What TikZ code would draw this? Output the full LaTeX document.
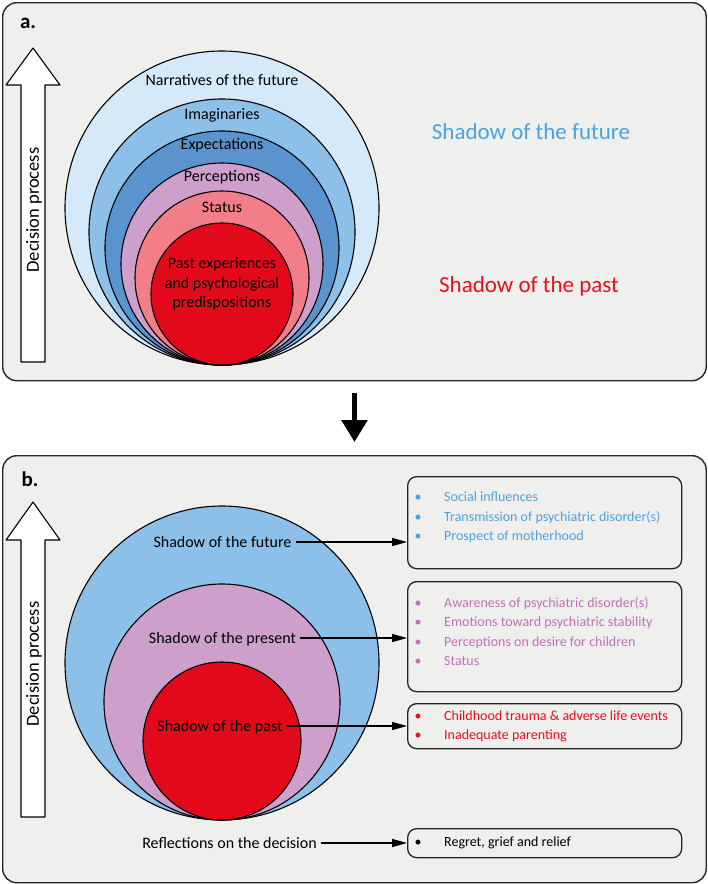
\documentclass[tikz,border=0pt]{standalone}
\usepackage{fontspec}
\setmainfont{Carlito}
\usetikzlibrary{arrows.meta}
\definecolor{panelbg}{HTML}{EFEFEE}
\definecolor{cNarr}{HTML}{D6E9F8}
\definecolor{cImag}{HTML}{8DC0E9}
\definecolor{cExp}{HTML}{5B93CF}
\definecolor{cPerc}{HTML}{CE9FCB}
\definecolor{cStat}{HTML}{F17E89}
\definecolor{cPast}{HTML}{E20A1A}
\definecolor{tBlue}{HTML}{4AA3DF}
\definecolor{tPurple}{HTML}{C070B8}
\definecolor{tRed}{HTML}{E8101E}
\tikzset{
  panel/.style={draw=black!85, line width=1.4pt, fill=panelbg, rounded corners=14pt, inner sep=0pt, anchor=north west},
  ring/.style={circle, draw=black, line width=1.1pt, inner sep=0pt},
  lbl/.style={inner xsep=4pt, inner ysep=0pt, text height=12pt, text depth=1.6pt, font=\fontsize{16}{19.5}\selectfont},
  biglbl/.style={inner sep=0pt, text height=17.25pt, text depth=2.3pt, font=\fontsize{23}{27}\selectfont},
  listbox/.style={draw=black!85, line width=1.3pt, fill=panelbg, rounded corners=9pt, anchor=north west, inner sep=0pt, minimum width=274pt},
  item/.style={inner sep=0pt, anchor=west, text height=10.5pt, text depth=1.4pt, font=\fontsize{14}{17}\selectfont},
  conn/.style={-{Triangle[length=15pt,width=8pt]}, line width=1.2pt},
  hollow/.style={draw=black, fill=white, line width=1.1pt, line join=round},
  tag/.style={inner sep=0pt, font=\fontsize{21}{24}\bfseries\selectfont},
  vert/.style={inner sep=0pt, rotate=90, font=\fontsize{18.5}{22}\selectfont}
}
\newcommand{\itm}[2]{\makebox[10pt][c]{\color{#1}\textbullet}\hspace{21pt}{\color{#1}#2}}
\begin{document}
\begin{tikzpicture}[x=1pt,y=-1pt]
\useasboundingbox (0,0) rectangle (708,884);
% ---------- panel a ----------
\node[panel, minimum width=703.5pt, minimum height=378pt] (pa) at (2,2) {};
\node[tag] (la) at (28,23) {a.};
\draw[hollow] (21,362) -- (21,85) -- (6,85) -- (33,48) -- (60,85) -- (45,85) -- (45,362) -- cycle;
\node[vert] (dpa) at (34,210) {Decision process};
\node[ring, fill=cNarr, minimum size=314pt] (a1) at (222,208) {};
\node[ring, fill=cImag, minimum size=266pt] (a2) at (222,232) {};
\node[ring, fill=cExp, minimum size=234pt] (a3) at (222,248) {};
\node[ring, fill=cPerc, minimum size=202pt] (a4) at (222,264) {};
\node[ring, fill=cStat, minimum size=174pt] (a5) at (222,278) {};
\node[ring, fill=cPast, minimum size=142pt] (a6) at (222,294) {};
\node[lbl] (t1) at (222,80) {Narratives of the future};
\node[lbl] (t2) at (222,114) {Imaginaries};
\node[lbl] (t3) at (222,144) {Expectations};
\node[lbl] (t4) at (222,176) {Perceptions};
\node[lbl] (t5) at (222,207) {Status};
\node[inner sep=0pt, align=center, font=\fontsize{16}{19.5}\selectfont] (t6) at (222,284) {Past experiences\\and psychological\\predispositions};
\node[biglbl, text=tBlue] (sfa) at (531,132) {Shadow of the future};
\node[biglbl, text=tRed] (spa) at (529,285) {Shadow of the past};
% ---------- arrow between ----------
\coordinate (dA) at (354.5,393);
\coordinate (dB) at (354.5,442);
\draw[line width=5.5pt, -{Triangle[length=22pt,width=25pt]}] (dA) -- (dB);
% ---------- panel b ----------
\node[panel, minimum width=703.5pt, minimum height=427pt] (pb) at (2,455) {};
\node[tag] (lb) at (30,479.5) {b.};
\draw[hollow] (21,817) -- (21,540) -- (6,540) -- (33,502) -- (60,540) -- (45,540) -- (45,817) -- cycle;
\node[vert] (dpb) at (34,664) {Decision process};
\node[ring, fill=cImag, minimum size=314pt] (b1) at (222,663) {};
\node[ring, fill=cPerc, minimum size=236pt] (b2) at (222,702) {};
\node[ring, fill=cPast, minimum size=158pt] (b3) at (222,741) {};
\node[lbl] (sf) at (222.5,542) {Shadow of the future};
\node[lbl] (sp) at (222.5,638) {Shadow of the present};
\node[lbl] (ss) at (220,726) {Shadow of the past};
\node[lbl] (rd) at (229.5,843) {Reflections on the decision};
\node[listbox, minimum height=92pt] (x1) at (407,476) {};
\node[listbox, minimum height=110pt] (x2) at (407,581) {};
\node[listbox, minimum height=45pt] (x3) at (407,703) {};
\node[listbox, minimum height=29pt] (x4) at (407,828) {};
\draw[conn] (sf.east) -- (sf.east -| x1.west);
\draw[conn] (sp.east) -- (sp.east -| x2.west);
\draw[conn] (ss.east) -- (ss.east -| x3.west);
\draw[conn] (rd.east) -- (rd.east -| x4.west);
\node[item] (i11) at (413,497) {\itm{tBlue}{Social influences}};
\node[item] (i12) at (413,517) {\itm{tBlue}{Transmission of psychiatric disorder(s)}};
\node[item] (i13) at (413,536) {\itm{tBlue}{Prospect of motherhood}};
\node[item] (i21) at (413,603) {\itm{tPurple}{Awareness of psychiatric disorder(s)}};
\node[item] (i22) at (413,622) {\itm{tPurple}{Emotions toward psychiatric stability}};
\node[item] (i23) at (413,642) {\itm{tPurple}{Perceptions on desire for children}};
\node[item] (i24) at (413,661) {\itm{tPurple}{Status}};
\node[item] (i31) at (413,716) {\itm{tRed}{Childhood trauma \& adverse life events}};
\node[item] (i32) at (413,735) {\itm{tRed}{Inadequate parenting}};
\node[item] (i41) at (413,842) {\itm{black}{Regret, grief and relief}};
\end{tikzpicture}
\end{document}
